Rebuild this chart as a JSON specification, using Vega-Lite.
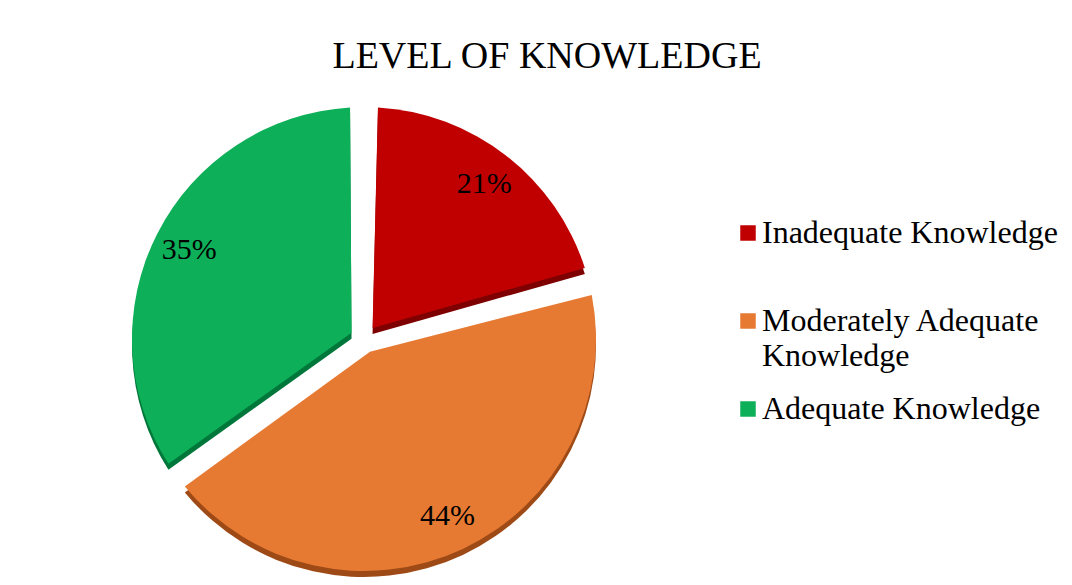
{
  "$schema": "https://vega.github.io/schema/vega-lite/v6.json",
  "width": 728,
  "height": 492,
  "autosize": {"type": "none"},
  "padding": {"left": 0, "top": 93, "right": 344, "bottom": 0},
  "background": "white",
  "title": {
    "text": "LEVEL OF KNOWLEDGE",
    "font": "Liberation Serif",
    "fontSize": 38,
    "fontWeight": "normal",
    "color": "#000000",
    "anchor": "middle",
    "frame": "group",
    "dx": 183,
    "baseline": "alphabetic",
    "offset": -13
  },
  "data": {
    "values": [
      {"level": "Inadequate Knowledge", "share": 0.21, "rank": 1},
      {"level": "Moderately Adequate Knowledge", "share": 0.44, "rank": 2},
      {"level": "Adequate Knowledge", "share": 0.35, "rank": 3}
    ]
  },
  "encoding": {
    "theta": {"field": "share", "type": "quantitative", "stack": true},
    "order": {"field": "rank", "type": "quantitative"}
  },
  "layer": [
    {
      "mark": {"type": "arc", "outerRadius": 232, "innerRadius": 14, "padAngle": 0.12, "yOffset": 6},
      "encoding": {
        "color": {
          "field": "level",
          "type": "nominal",
          "scale": {
            "domain": ["Inadequate Knowledge", "Moderately Adequate Knowledge", "Adequate Knowledge"],
            "range": ["#7E0000", "#9E4A16", "#00773A"]
          },
          "legend": null
        }
      }
    },
    {
      "mark": {"type": "arc", "outerRadius": 232, "innerRadius": 14, "padAngle": 0.12},
      "encoding": {
        "color": {
          "field": "level",
          "type": "nominal",
          "scale": {
            "domain": ["Inadequate Knowledge", "Moderately Adequate Knowledge", "Adequate Knowledge"],
            "range": ["#C00000", "#E67A33", "#0DB058"]
          },
          "legend": {
            "orient": "none",
            "legendX": 732,
            "legendY": 124,
            "title": null,
            "padding": 0,
            "symbolType": "square",
            "symbolSize": 240,
            "symbolStrokeWidth": 0,
            "labelFont": "Liberation Serif",
            "labelFontSize": 32,
            "labelColor": "#000000",
            "labelOffset": -2,
            "labelLimit": 0,
            "rowPadding": 21,
            "gridAlign": "all",
            "labelExpr": "datum.label == 'Moderately Adequate Knowledge' ? ['Moderately Adequate', 'Knowledge'] : datum.label"
          }
        }
      }
    },
    {
      "mark": {"type": "text", "radius": 196, "font": "Liberation Serif", "fontSize": 30, "color": "#000000"},
      "encoding": {
        "text": {"field": "share", "type": "quantitative", "format": ".0%"}
      }
    }
  ],
  "resolve": {"scale": {"color": "independent"}},
  "config": {
    "view": {"stroke": null},
    "style": {"guide-label": {"lineHeight": 35}}
  }
}
